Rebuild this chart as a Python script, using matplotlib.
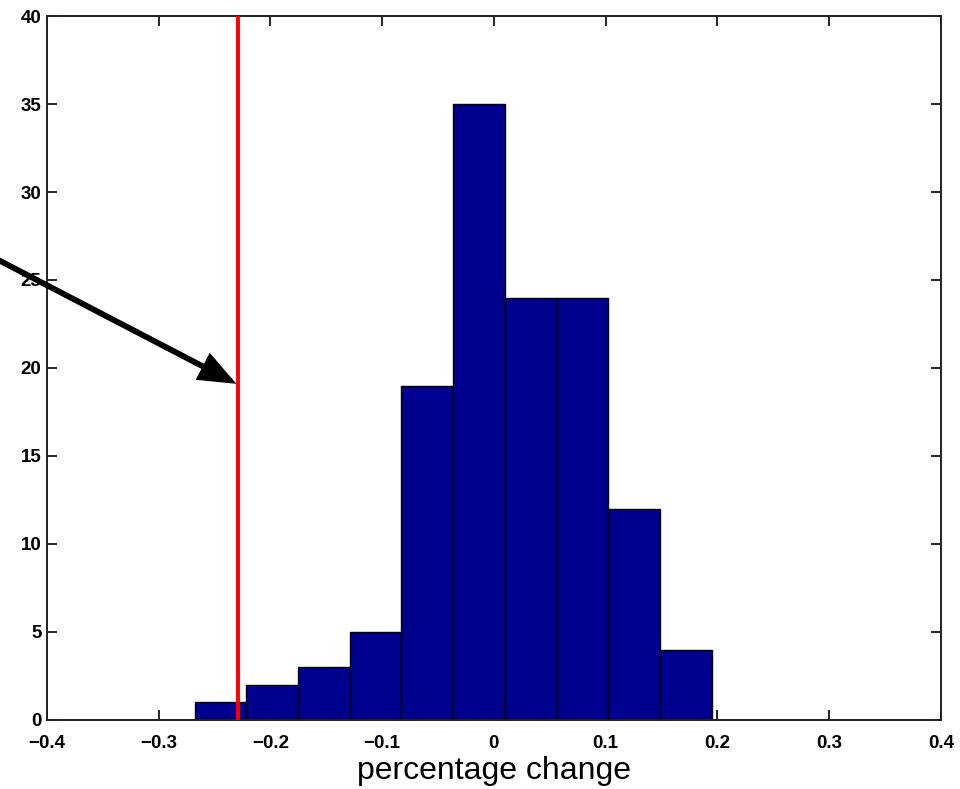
import numpy as np
import matplotlib
matplotlib.use('Agg')
from matplotlib import pyplot as plt

# histogram of percentage change
bin_edges = [-0.268, -0.2217, -0.1754, -0.1291, -0.0828, -0.0365,
             0.0098, 0.0561, 0.1024, 0.1487, 0.195]
counts = [1, 2, 3, 5, 19, 35, 24, 24, 12, 4]

threshold = -0.2288          # red vertical line
arrow_tip = (-0.2305, 19.1)
arrow_tail = (-0.45, 26.35)

xticks = [-0.4, -0.3, -0.2, -0.1, 0, 0.1, 0.2, 0.3, 0.4]
xticklabels = ['\u22120.4', '\u22120.3', '\u22120.2', '\u22120.1', '0', '0.1', '0.2', '0.3', '0.4']
yticks = [0, 5, 10, 15, 20, 25, 30, 35, 40]

plt.rcParams['font.family'] = ['Liberation Sans', 'DejaVu Sans']

fig = plt.figure(figsize=(9.6, 7.89), dpi=100)
ax = fig.add_axes([0.049, 0.0875, 0.931, 0.8922])

edges = np.array(bin_edges)
ax.bar(edges[:-1], counts, width=np.diff(edges), align='edge',
       color='#00008F', edgecolor='black', linewidth=1.0, zorder=2)

ax.axvline(threshold, color='red', linewidth=2.8, zorder=3)

ax.annotate('', xy=arrow_tip, xytext=arrow_tail, xycoords='data',
            annotation_clip=False,
            arrowprops=dict(arrowstyle='-|>,head_length=0.7,head_width=0.28',
                            mutation_scale=28, lw=4.2, color='black',
                            joinstyle='miter', shrinkA=0, shrinkB=0),
            zorder=4)

ax.set_xlim(-0.4, 0.4)
ax.set_ylim(0, 40)
ax.set_xticks(xticks)
ax.set_xticklabels(xticklabels)
ax.set_yticks(yticks)

for lab in ax.get_xticklabels() + ax.get_yticklabels():
    lab.set_fontweight('bold')
    lab.set_fontsize(13.5)

ax.tick_params(direction='in', length=7, width=1.2, top=True, right=True)
ax.tick_params(axis='x', pad=11)
ax.tick_params(axis='y', pad=4)

for s in ax.spines.values():
    s.set_linewidth(1.4)
    s.set_color('#222222')

ax.set_xlabel('percentage change', fontsize=23, labelpad=3)

fig.savefig('out.png', dpi=100)
